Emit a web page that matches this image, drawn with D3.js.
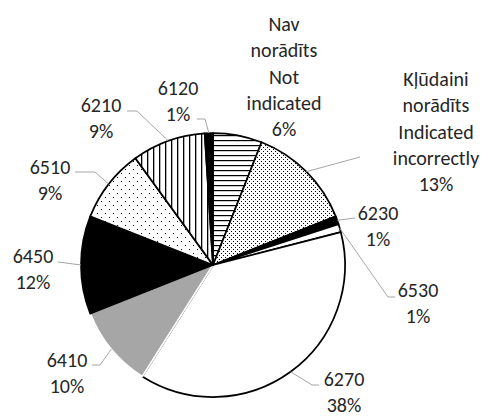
<!DOCTYPE html>
<html>
<head>
<meta charset="utf-8">
<script src="https://cdn.jsdelivr.net/npm/d3@7/dist/d3.min.js"></script>
<style>
  html, body { margin: 0; padding: 0; background: #fff; }
  svg text { font-family: Calibri, Lato, sans-serif; font-size: 20px; fill: #262626; }
</style>
</head>
<body>
<div id="chart"></div>
<script>
// slices, clockwise from 12 o'clock
const categories = ['Nav norādīts', 'Kļūdaini norādīts', '6230', '6530', '6270', '6410', '6450', '6510', '6210', '6120'];
const shares = [6, 13, 1, 1, 38, 10, 12, 9, 9, 1];
const labelLines = [
  ['Nav', 'norādīts', 'Not', 'indicated', '6%'],
  ['Kļūdaini', 'norādīts', 'Indicated', 'incorrectly', '13%'],
  ['6230', '1%'],
  ['6530', '1%'],
  ['6270', '38%'],
  ['6410', '10%'],
  ['6450', '12%'],
  ['6510', '9%'],
  ['6210', '9%'],
  ['6120', '1%']
];
const fills = ['url(#hlines)', 'url(#densedots)', '#000', '#fff', '#fff', '#a6a6a6', '#000', 'url(#sparsedots)', 'url(#vlines)', '#000'];
const strokes = ['#000', '#000', '#000', '#000', '#000', '#fff', '#000', '#000', '#000', '#000'];

// label placement (centre x, first baseline) and leader bend points
const labelPos = [[284, 31], [436, 86], [378, 220], [418, 297], [344, 386], [67, 367], [33, 263], [50, 174], [101, 112], [178, 95]];
const leaders = [
  null,
  [[360, 157]],
  [[355, 218]],
  [[395, 297], [388, 297]],
  [[319, 385], [312, 385]],
  [[92, 365], [100, 365]],
  [[58, 262]],
  [[75, 172], [95, 172]],
  [[127, 111], [137, 111]],
  [[197, 119], [205, 119]]
];

const width = 483, height = 417;
const cx = 213, cy = 265, r = 132;
const lineH = 26.3;

const svg = d3.select('#chart').append('svg')
  .attr('width', width).attr('height', height);

const defs = svg.append('defs');
function pattern(id, w, h) {
  const p = defs.append('pattern').attr('id', id)
    .attr('patternUnits', 'userSpaceOnUse')
    .attr('width', w).attr('height', h);
  p.append('rect').attr('width', w).attr('height', h).attr('fill', '#fff');
  return p;
}
pattern('hlines', 8, 5).append('rect').attr('y', 0).attr('width', 8).attr('height', 1.2).attr('fill', '#000');
pattern('vlines', 6, 8).append('rect').attr('x', 0).attr('width', 1.3).attr('height', 8).attr('fill', '#000');
const dd = pattern('densedots', 4, 4);
dd.append('rect').attr('x', 0).attr('y', 0).attr('width', 1).attr('height', 1).attr('fill', '#000');
dd.append('rect').attr('x', 2).attr('y', 2).attr('width', 1).attr('height', 1).attr('fill', '#000');
const sd = pattern('sparsedots', 8, 8);
sd.append('rect').attr('x', 0).attr('y', 0).attr('width', 1).attr('height', 1).attr('fill', '#000');
sd.append('rect').attr('x', 4).attr('y', 4).attr('width', 1).attr('height', 1).attr('fill', '#000');

const pie = d3.pie().sort(null).value(d => d);
const arcs = pie(shares);
const arc = d3.arc().innerRadius(0).outerRadius(r);

const g = svg.append('g').attr('transform', `translate(${cx},${cy})`);
g.selectAll('path')
  .data(arcs)
  .join('path')
  .attr('d', arc)
  .attr('fill', (d, i) => fills[i])
  .attr('stroke', (d, i) => strokes[i])
  .attr('stroke-width', 1.75)
  .attr('stroke-linejoin', 'round');

// leader lines
arcs.forEach((d, i) => {
  if (!leaders[i]) return;
  const mid = (d.startAngle + d.endAngle) / 2;
  const end = [cx + r * Math.sin(mid), cy - r * Math.cos(mid)];
  svg.append('polyline')
    .attr('points', leaders[i].concat([end]).map(p => p.join(',')).join(' '))
    .attr('fill', 'none')
    .attr('stroke', '#a6a6a6')
    .attr('stroke-width', 1);
});

// data labels
labelLines.forEach((lines, i) => {
  const t = svg.append('text')
    .attr('text-anchor', 'middle')
    .attr('x', labelPos[i][0])
    .attr('y', labelPos[i][1]);
  lines.forEach((s, k) => {
    t.append('tspan')
      .attr('x', labelPos[i][0])
      .attr('y', labelPos[i][1] + k * lineH)
      .text(s);
  });
});
</script>
</body>
</html>
